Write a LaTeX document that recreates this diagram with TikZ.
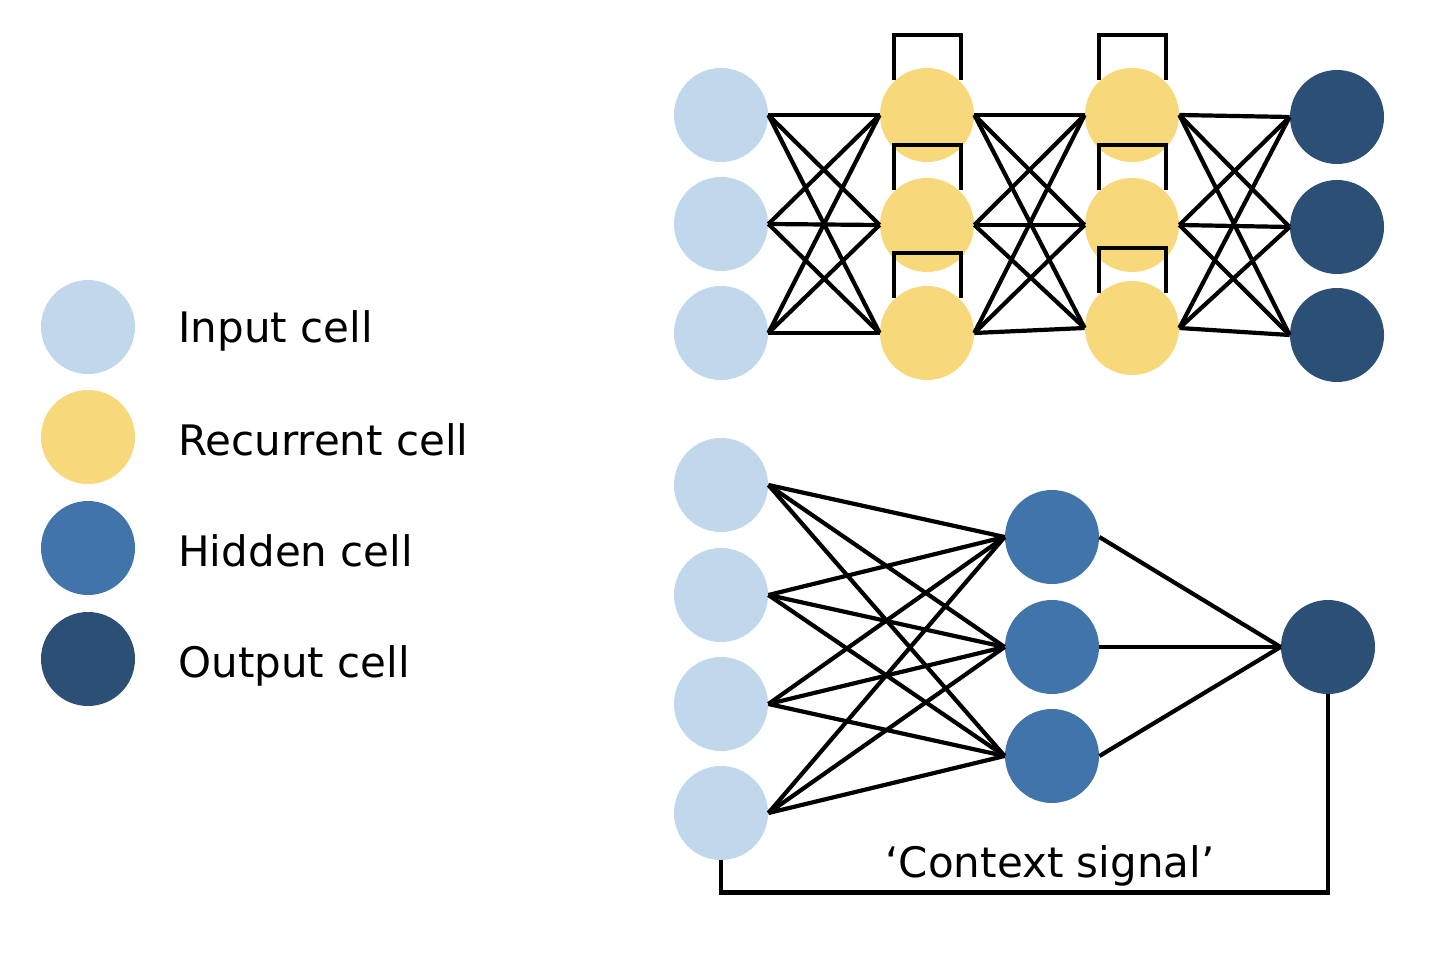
\documentclass[tikz,border=0pt]{standalone}
\usepackage{fontspec}
\setmainfont{DejaVu Sans}
\usetikzlibrary{calc}
\definecolor{cin}{RGB}{192,215,236}
\definecolor{crec}{RGB}{247,216,122}
\definecolor{chid}{RGB}{66,116,172}
\definecolor{cout}{RGB}{44,79,117}
\tikzset{
  cell/.style={circle,minimum size=47pt,inner sep=0pt,draw=none},
  incell/.style={cell,fill=cin},
  reccell/.style={cell,fill=crec},
  hidcell/.style={cell,fill=chid},
  outcell/.style={cell,fill=cout},
  conn/.style={line width=2.1pt,black},
  txt/.style={font=\fontsize{21}{25}\selectfont,inner sep=0pt},
  legtext/.style={txt,anchor=west},
}
\begin{document}
\begin{tikzpicture}[x=0.5pt,y=-0.5pt]
\useasboundingbox (0,0) rectangle (1454,962);
% legend
\node[incell]  (l1) at (88,327) {};
\node[reccell] (l2) at (88,437) {};
\node[hidcell] (l3) at (88,548) {};
\node[outcell] (l4) at (88,659) {};
\node[legtext] (t1) at (178,331) {Input cell};
\node[legtext] (t2) at (178,440) {Recurrent cell};
\node[legtext] (t3) at (178,551) {Hidden cell};
\node[legtext] (t4) at (178,666) {Output cell};
% top network
\node[incell] (a1) at (721,115) {};
\node[incell] (a2) at (721,224) {};
\node[incell] (a3) at (721,333) {};
\node[reccell] (b1) at (927,115) {};
\node[reccell] (b2) at (927,225) {};
\node[reccell] (b3) at (927,333) {};
\node[reccell] (c1) at (1132,115) {};
\node[reccell] (c2) at (1132,225) {};
\node[reccell] (c3) at (1132,328) {};
\node[outcell] (d1) at (1337,117) {};
\node[outcell] (d2) at (1337,227) {};
\node[outcell] (d3) at (1337,335) {};
\foreach \i in {1,2,3}{
  \foreach \j in {1,2,3}{
    \draw[conn] (a\i.east) -- (b\j.west);
    \draw[conn] (b\i.east) -- (c\j.west);
    \draw[conn] (c\i.east) -- (d\j.west);
  }
}
\foreach \n in {b1,b2,b3,c1,c2,c3}{
  \draw[conn] ([shift={(-33,-35)}]\n.center) -- ++(0,-45) -- ++(67,0) -- ++(0,45);
}
% bottom network
\node[incell] (e1) at (721,485) {};
\node[incell] (e2) at (721,595) {};
\node[incell] (e3) at (721,704) {};
\node[incell] (e4) at (721,813) {};
\node[hidcell] (h1) at (1052,537) {};
\node[hidcell] (h2) at (1052,647) {};
\node[hidcell] (h3) at (1052,756) {};
\node[outcell] (o1) at (1328,647) {};
\foreach \i in {1,2,3,4}{
  \foreach \j in {1,2,3}{
    \draw[conn] (e\i.east) -- (h\j.west);
  }
}
\foreach \j in {1,2,3}{
  \draw[conn] (h\j.east) -- (o1.west);
}
\draw[conn] (o1.south) -- ++(0,198) -| (e4.south);
\node[txt] (ctx) at (1050,866) {‘Context signal’};
\end{tikzpicture}
\end{document}
